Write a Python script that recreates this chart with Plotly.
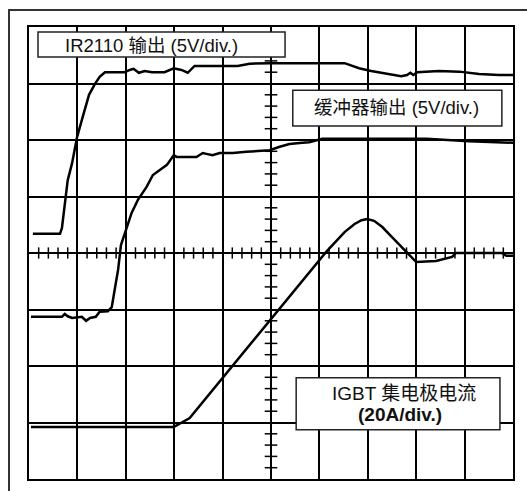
import plotly.graph_objects as go

# Time axis in divisions (0..10), amplitude in divisions (0..8)
ir_x = [0.08, 0.64, 0.68, 0.74, 0.80, 0.89, 0.99, 1.11, 1.24, 1.36, 1.46, 1.57, 1.98, 2.08, 2.16,
        2.27, 2.39, 2.54, 2.80, 2.99, 3.15, 3.28, 3.42, 3.84, 4.31, 4.56, 4.97, 6.52, 6.82, 7.07,
        7.44, 7.69, 7.81, 7.88, 7.94, 8.02, 8.47, 8.89, 9.30, 9.71, 10.04]
ir_y = [4.34, 4.34, 4.44, 4.85, 5.29, 5.59, 6.04, 6.41, 6.80, 6.99, 7.12, 7.20, 7.20, 7.24, 7.26,
        7.19, 7.22, 7.20, 7.20, 7.27, 7.24, 7.19, 7.31, 7.31, 7.31, 7.35, 7.36, 7.36, 7.27, 7.22,
        7.17, 7.13, 7.15, 7.19, 7.15, 7.20, 7.22, 7.21, 7.17, 7.15, 7.15]

buf_x = [0.04, 0.68, 0.74, 0.80, 0.89, 1.01, 1.09, 1.18, 1.26, 1.38, 1.46, 1.63, 1.71, 1.77, 1.84,
         1.90, 1.98, 2.12, 2.25, 2.43, 2.56, 2.70, 2.85, 2.99, 3.05, 3.46, 3.59, 3.69, 3.79, 3.94,
         4.21, 4.49, 4.97, 5.18, 5.38, 5.65, 5.79, 6.06, 8.21, 9.09, 10.02]
buf_y = [2.87, 2.87, 2.92, 2.88, 2.85, 2.87, 2.87, 2.80, 2.85, 2.87, 2.96, 2.97, 3.04, 3.35, 3.70,
         4.14, 4.35, 4.71, 4.94, 5.17, 5.38, 5.47, 5.56, 5.73, 5.70, 5.70, 5.77, 5.75, 5.73, 5.77,
         5.77, 5.79, 5.82, 5.88, 5.93, 5.95, 5.96, 6.02, 6.02, 5.98, 5.95]

ic_x = [0.04, 2.99, 3.32, 4.97, 6.14, 6.52, 6.72, 6.87, 6.99, 7.13, 7.30, 7.48, 7.71, 8.00, 8.41,
        8.62, 8.74, 8.82, 9.77, 9.86, 10.06]
ic_y = [0.92, 0.92, 1.08, 2.81, 4.02, 4.37, 4.51, 4.58, 4.60, 4.57, 4.46, 4.30, 4.09, 3.84, 3.86,
        3.91, 3.93, 4.00, 4.00, 3.95, 3.95]

label_ir = "IR2110 输出 (5V/div.)"
label_buf = "缓冲器输出 (5V/div.)"
label_ic1 = "IGBT 集电极电流"
label_ic2 = "<b>(20A/div.)</b>"

FONT = "Liberation Sans, Arial, Noto Sans CJK SC, sans-serif"

fig = go.Figure()

# graticule minor ticks on the centre axes
minor = [k / 5 for k in range(1, 50) if k % 5 != 0]
minor_y = [k / 5 for k in range(1, 40) if k % 5 != 0]
fig.add_trace(go.Scatter(x=minor, y=[4] * len(minor), mode="markers", hoverinfo="skip",
                         marker=dict(symbol="line-ns", size=8, line=dict(width=1.5, color="black"))))
fig.add_trace(go.Scatter(x=[5] * len(minor_y), y=minor_y, mode="markers", hoverinfo="skip",
                         marker=dict(symbol="line-ew", size=9, line=dict(width=1.5, color="black"))))

for xs, ys in [(ir_x, ir_y), (buf_x, buf_y), (ic_x, ic_y)]:
    fig.add_trace(go.Scatter(x=xs, y=ys, mode="lines", line=dict(color="black", width=2.5),
                             hoverinfo="skip"))

axis_common = dict(showgrid=True, gridcolor="black", gridwidth=1.5, dtick=1, tick0=0,
                   zeroline=False, showticklabels=False, ticks="", showline=True, mirror=True,
                   linecolor="black", linewidth=1.5, fixedrange=True)

boxes = [(0.186, 5.29, 7.47, 7.91), (5.45, 9.77, 6.25, 6.88), (5.52, 9.73, 0.87, 1.79)]
shapes = [dict(type="rect", xref="x", yref="y", x0=a, x1=b, y0=c, y1=d, fillcolor="white",
               line=dict(color="#222", width=1.5), layer="above") for a, b, c, d in boxes]
shapes.append(dict(type="rect", xref="paper", yref="paper", x0=9 / 527, x1=1.05, y0=-0.05,
                   y1=1 - 10 / 491, line=dict(color="#333", width=2)))

fig.update_layout(
    width=527, height=491, margin=dict(l=0, r=0, t=0, b=0),
    paper_bgcolor="white", plot_bgcolor="white", showlegend=False,
    xaxis=dict(range=[0, 10], domain=[29 / 527, 513 / 527], **axis_common),
    yaxis=dict(range=[0, 8], domain=[1 - 479 / 491, 1 - 27 / 491], **axis_common),
    shapes=shapes,
    annotations=[
        dict(x=2.54, y=7.67, text=label_ir, showarrow=False, font=dict(family=FONT, size=18.5, color="#111")),
        dict(x=7.60, y=6.57, text=label_buf, showarrow=False, font=dict(family=FONT, size=18.5, color="#111")),
        dict(x=7.74, y=1.51, text=label_ic1, showarrow=False, font=dict(family=FONT, size=19, color="#111")),
        dict(x=7.67, y=1.14, text=label_ic2, showarrow=False, font=dict(family=FONT, size=19, color="#111")),
    ],
)

fig.write_html("out.html")
